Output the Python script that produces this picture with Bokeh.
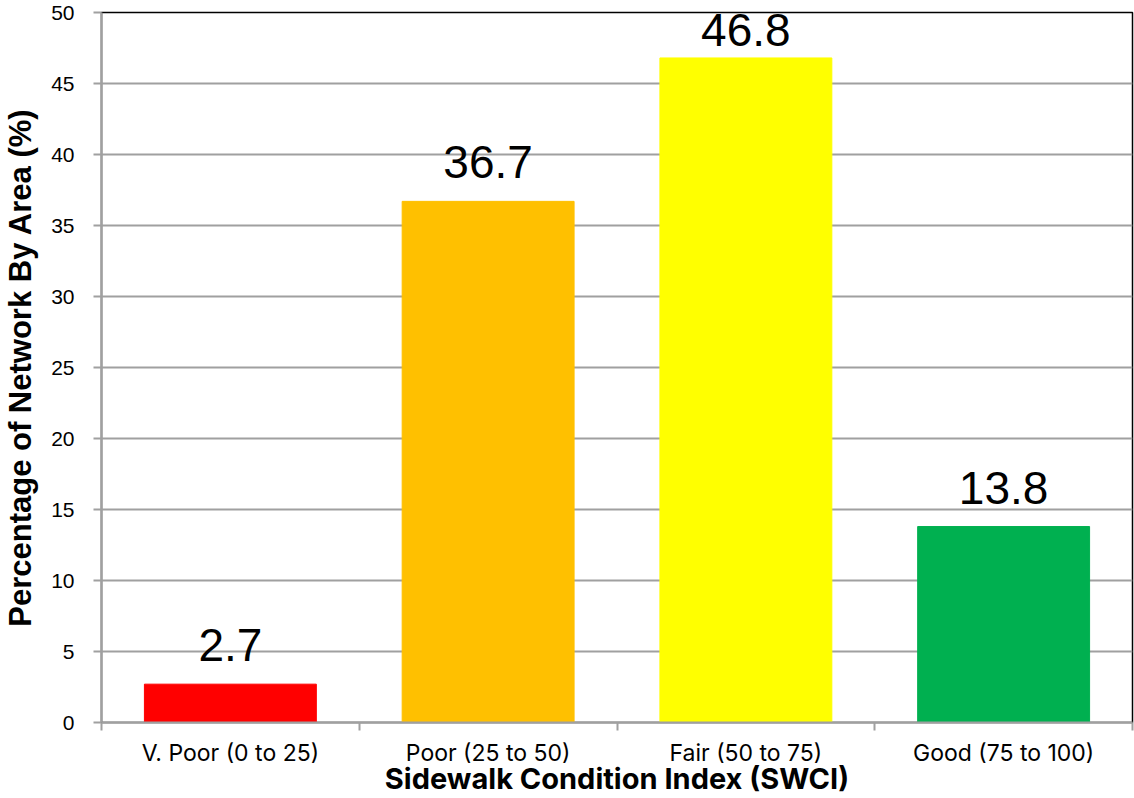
from bokeh.plotting import figure
from bokeh.models import ColumnDataSource, Range1d, FixedTicker, LabelSet
from bokeh.core.properties import value
from bokeh.embed import file_html
from bokeh.resources import INLINE

categories = ["V. Poor (0 to 25)", "Poor (25 to 50)", "Fair (50 to 75)", "Good (75 to 100)"]
values = [2.7, 36.7, 46.8, 13.8]
colors = ["#FF0000", "#FFC000", "#FFFF00", "#00B050"]
y_ticks = [0, 5, 10, 15, 20, 25, 30, 35, 40, 45, 50]

Y_MAX = 50
FRAME_TOP, FRAME_BOTTOM_BORDER, HEIGHT = 12, 76, 798
px_per_unit = (HEIGHT - FRAME_TOP - FRAME_BOTTOM_BORDER) / Y_MAX
label_size = 46
cap = label_size * 0.716
# labels sit 23px above the bar, but are kept inside the plot area (as Excel does)
offsets = [min(23, (Y_MAX - v) * px_per_unit - cap - 1) for v in values]

xpos = [i + 0.5 for i in range(len(categories))]
src = ColumnDataSource(dict(x=xpos, top=values, color=colors, off=offsets,
                            label=[f"{v:.1f}" for v in values]))

p = figure(width=1134, height=HEIGHT, output_backend="svg", toolbar_location=None,
           x_range=Range1d(0, len(categories)), y_range=Range1d(0, Y_MAX),
           min_border_left=100, min_border_right=2, min_border_top=FRAME_TOP,
           min_border_bottom=FRAME_BOTTOM_BORDER)

p.vbar(x="x", top="top", width=0.667, color="color", source=src)

labels = LabelSet(x="x", y="top", text="label", source=src, text_align="center",
                  text_baseline="alphabetic", y_offset="off", text_font=value("Liberation Sans"),
                  text_font_size=f"{label_size}px", text_color="black")
p.add_layout(labels)

p.outline_line_color = "black"
p.outline_line_width = 1.5

p.xgrid.visible = False
p.ygrid.grid_line_color = "#A0A0A0"
p.ygrid.grid_line_width = 2
p.yaxis.ticker = FixedTicker(ticks=y_ticks)
p.ygrid.ticker = FixedTicker(ticks=y_ticks)

# y axis
ya = p.yaxis[0]
ya.axis_line_color = "#A0A0A0"
ya.axis_line_width = 2
ya.major_tick_line_color = "#A0A0A0"
ya.major_tick_line_width = 2
ya.major_tick_out = 8
ya.major_tick_in = 0
ya.minor_tick_line_color = None
ya.major_label_text_font = "Liberation Sans"
ya.major_label_text_font_size = "21px"
ya.major_label_text_color = "black"
ya.major_label_standoff = 19
ya.axis_label = "Percentage of Network By Area (%)"
ya.axis_label_text_font = "Liberation Sans"
ya.axis_label_text_font_style = "bold"
ya.axis_label_text_font_size = "31px"
ya.axis_label_text_color = "black"
ya.axis_label_standoff = 10

# x axis
xa = p.xaxis[0]
xa.ticker = FixedTicker(ticks=xpos, minor_ticks=list(range(len(categories) + 1)))
xa.major_label_overrides = {x: c for x, c in zip(xpos, categories)}
xa.axis_line_color = "#A0A0A0"
xa.axis_line_width = 2
xa.major_tick_out = 0
xa.major_tick_in = 0
xa.minor_tick_line_color = "#A0A0A0"
xa.minor_tick_line_width = 2
xa.minor_tick_out = 8
xa.minor_tick_in = 0
xa.major_label_text_font = "Inter"
xa.major_label_text_font_size = "23px"
xa.major_label_text_color = "black"
xa.major_label_standoff = 8
xa.axis_label = "Sidewalk Condition Index (SWCI)"
xa.axis_label_text_font = "Inter"
xa.axis_label_text_font_style = "bold"
xa.axis_label_text_font_size = "29px"
xa.axis_label_text_color = "black"
xa.axis_label_standoff = -9

open("out.html", "w").write(file_html(p, INLINE))
